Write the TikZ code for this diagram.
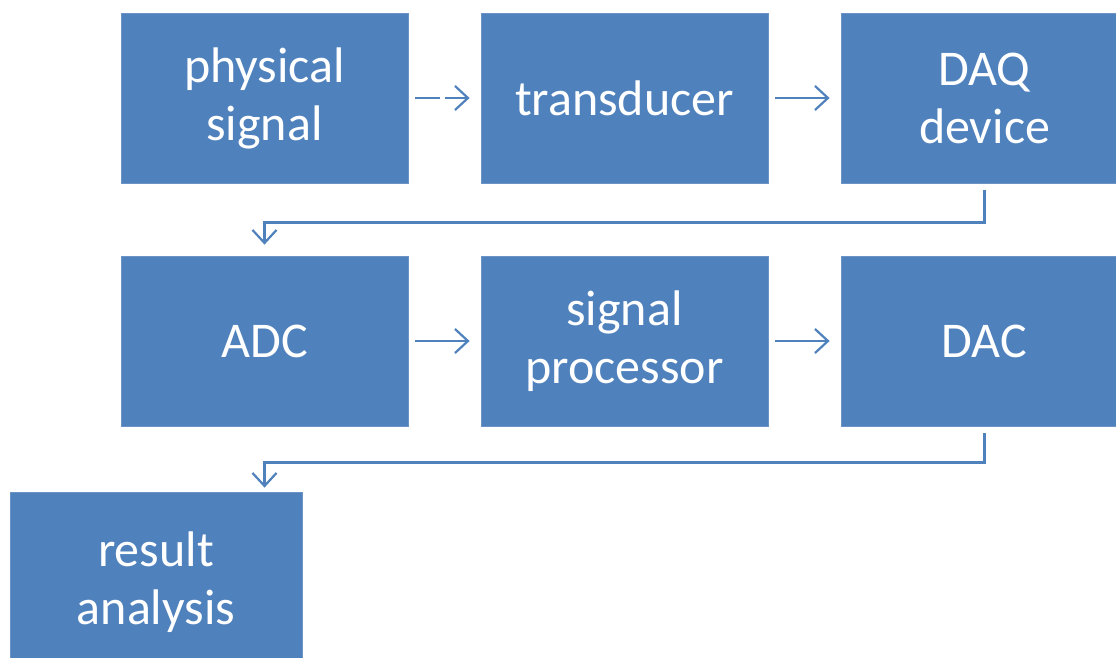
\documentclass[tikz,border=0pt]{standalone}
\usepackage{fontspec}
\setmainfont{Carlito}
\usetikzlibrary{arrows.meta}
\definecolor{boxblue}{HTML}{4F81BD}
\definecolor{boxedge}{HTML}{6C93C6}
\tikzset{
  blockbox/.style={rectangle, fill=boxblue, draw=boxedge, line width=0.8pt,
    minimum width=287pt, minimum height=170pt, inner sep=0pt, text=white,
    align=center, font=\fontsize{50pt}{58pt}\selectfont},
  conn/.style={draw=boxblue, line width=2.2pt,
    -{Straight Barb[length=13pt,width=24pt,line width=2.2pt]}},
  gapped/.style={conn, shorten <=7pt, shorten >=11pt}
}
\begin{document}
\begin{tikzpicture}[x=1pt,y=-1pt]
\useasboundingbox (0,0) rectangle (1116,658);
\clip (0,0) rectangle (1116,658);
\node[blockbox] (phys) at (264.5,98) {physical\\signal};
\node[blockbox] (trans) at (624.5,98) {transducer};
\node[blockbox] (daq) at (984.5,98) {DAQ\\device};
\node[blockbox] (adc) at (264.5,341) {ADC};
\node[blockbox] (proc) at (624.5,341) {signal\\processor};
\node[blockbox] (dac) at (984.5,341) {DAC};
\node[blockbox, minimum width=292pt, minimum height=180pt] (res) at (156,582) {result\\analysis};
\draw[gapped, dash pattern=on 25pt off 5pt] (phys) -- (trans);
\draw[gapped] (trans) -- (daq);
\draw[gapped] (adc) -- (proc);
\draw[gapped] (proc) -- (dac);
\draw[gapped] (daq.south) -- ++(0,39) -| (adc.north);
\draw[gapped, shorten >=4pt] (dac.south) -- ++(0,36) -| (res.north -| adc.north);
\end{tikzpicture}
\end{document}
